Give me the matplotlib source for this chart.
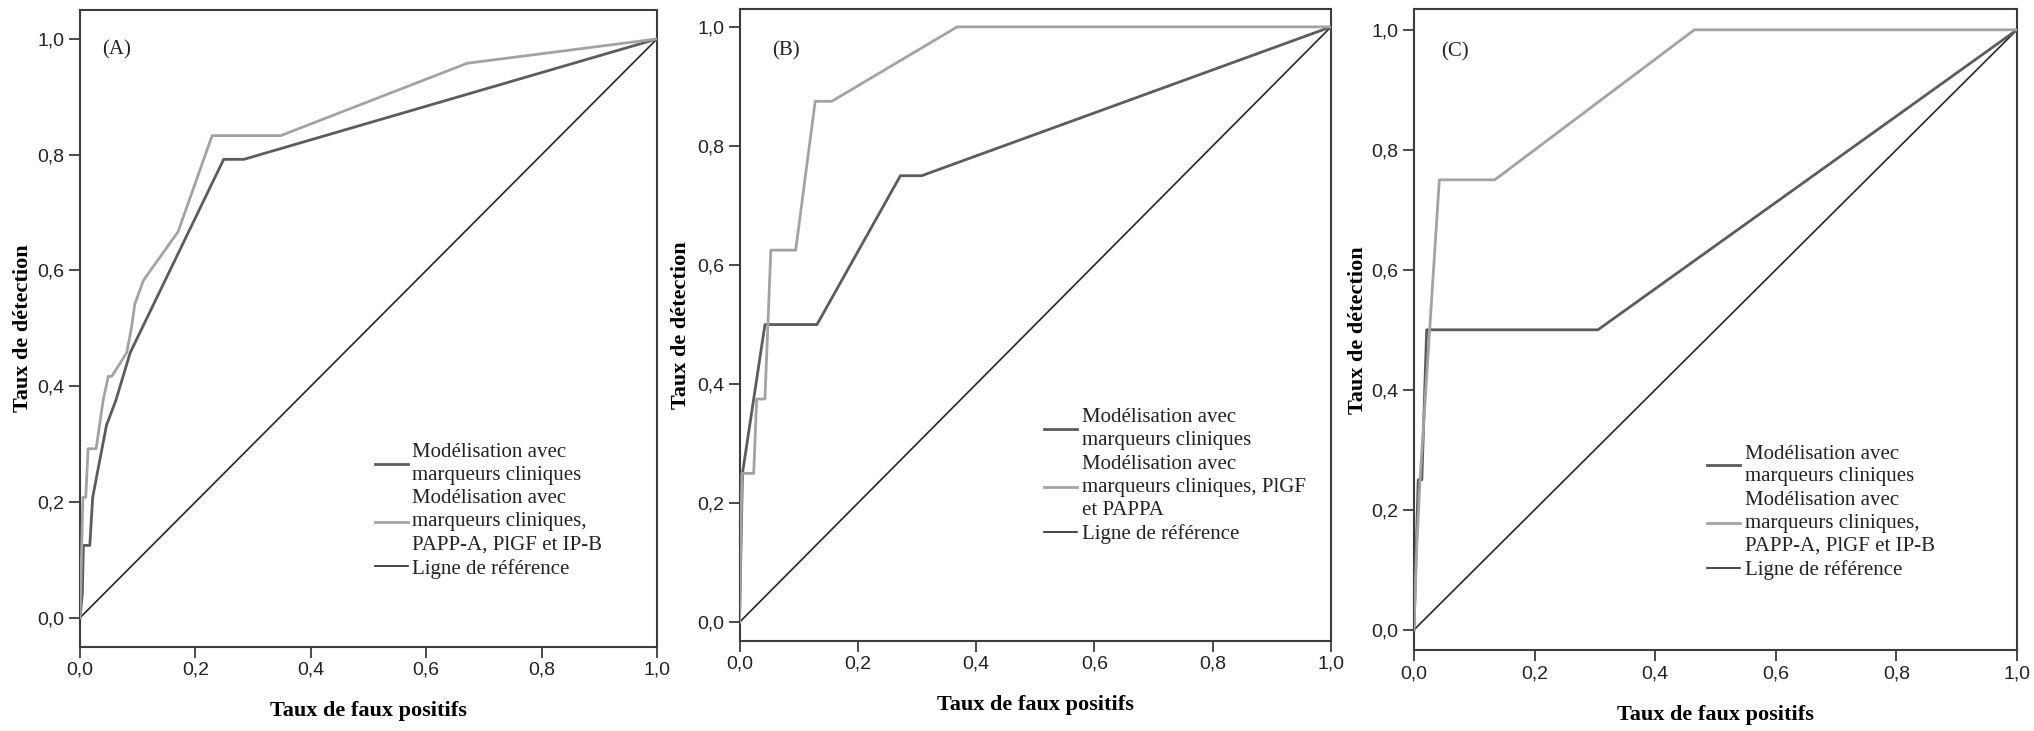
import matplotlib
matplotlib.use("Agg")
import matplotlib.pyplot as plt
from matplotlib.ticker import FuncFormatter

# ROC points
A_fpr_clin = [0, 0.004, 0.006, 0.017, 0.022, 0.030, 0.046, 0.062, 0.087, 0.249, 0.284, 1.0]
A_tpr_clin = [0, 0.042, 0.125, 0.125, 0.208, 0.250, 0.333, 0.375, 0.458, 0.792, 0.792, 1.0]
A_fpr_full = [0, 0.003, 0.005, 0.010, 0.014, 0.028, 0.040, 0.049, 0.055, 0.081, 0.089,
              0.095, 0.110, 0.170, 0.229, 0.348, 0.671, 1.0]
A_tpr_full = [0, 0.125, 0.208, 0.208, 0.292, 0.292, 0.375, 0.417, 0.417, 0.458, 0.500,
              0.542, 0.583, 0.667, 0.833, 0.833, 0.958, 1.0]

B_fpr_clin = [0, 0.005, 0.043, 0.131, 0.272, 0.308, 1.0]
B_tpr_clin = [0, 0.250, 0.500, 0.500, 0.750, 0.750, 1.0]
B_fpr_full = [0, 0.004, 0.024, 0.029, 0.043, 0.053, 0.095, 0.128, 0.156, 0.368, 1.0]
B_tpr_full = [0, 0.250, 0.250, 0.375, 0.375, 0.625, 0.625, 0.875, 0.875, 1.0, 1.0]

C_fpr_clin = [0, 0.007, 0.013, 0.021, 0.305, 1.0]
C_tpr_clin = [0, 0.250, 0.250, 0.500, 0.500, 1.0]
C_fpr_full = [0, 0.004, 0.010, 0.042, 0.134, 0.465, 1.0]
C_tpr_full = [0, 0.125, 0.250, 0.750, 0.750, 1.0, 1.0]

ref_x = [0, 1]
ref_y = [0, 1]

panel_tags = ["(A)", "(B)", "(C)"]
lab_clin = "Modélisation avec\nmarqueurs cliniques"
lab_full_A = "Modélisation avec\nmarqueurs cliniques,\nPAPP-A, PlGF et IP-B"
lab_full_B = "Modélisation avec\nmarqueurs cliniques, PlGF\net PAPPA"
lab_ref = "Ligne de référence"
xticks = [0, 0.2, 0.4, 0.6, 0.8, 1.0]

DARK = "#5c5c5c"
LIGHT = "#a3a3a3"
REF = "#262626"
SPINE = "#3c3c3c"
SERIF = "Liberation Serif"
SANS = "Liberation Sans"

panels = [
    dict(pos=[0.03933, 0.11532, 0.28368, 0.87100], ylim=(-0.05, 1.05),
         clin=(A_fpr_clin, A_tpr_clin), full=(A_fpr_full, A_tpr_full),
         lab_full=lab_full_A, leg=(0.511, 0.320), ylab_x=-0.082, tag=(0.038, 0.937)),
    dict(pos=[0.36357, 0.12353, 0.29081, 0.86416], ylim=(-0.031, 1.03),
         clin=(B_fpr_clin, B_tpr_clin), full=(B_fpr_full, B_tpr_full),
         lab_full=lab_full_B, leg=(0.515, 0.368), ylab_x=-0.082, tag=(0.055, 0.934)),
    dict(pos=[0.69518, 0.11053, 0.29646, 0.87661], ylim=(-0.034, 1.034),
         clin=(C_fpr_clin, C_tpr_clin), full=(C_fpr_full, C_tpr_full),
         lab_full=lab_full_A, leg=(0.486, 0.321), ylab_x=-0.076, tag=(0.045, 0.933)),
]

comma = FuncFormatter(lambda v, _: f"{v:.1f}".replace(".", ","))

fig = plt.figure(figsize=(20.34, 7.31), dpi=100, facecolor="white")

for p, tag in zip(panels, panel_tags):
    ax = fig.add_axes(p["pos"])
    l1, = ax.plot(*p["clin"], color=DARK, lw=2.0, label=lab_clin, zorder=3)
    l2, = ax.plot(*p["full"], color=LIGHT, lw=2.0, label=p["lab_full"], zorder=4)
    l3, = ax.plot(ref_x, ref_y, color=REF, lw=1.2, label=lab_ref, zorder=2)

    ax.set_xlim(0, 1)
    ax.set_ylim(*p["ylim"])
    ax.set_xticks(xticks)
    ax.set_yticks(xticks)
    ax.xaxis.set_major_formatter(comma)
    ax.yaxis.set_major_formatter(comma)
    ax.tick_params(direction="out", length=8, width=1.3, color=SPINE, pad=3,
                   labelsize=14, labelcolor="#222222")
    for t in ax.get_xticklabels() + ax.get_yticklabels():
        t.set_fontfamily(SANS)
    for sp in ax.spines.values():
        sp.set_color(SPINE)
        sp.set_linewidth(1.5)

    ax.set_xlabel("Taux de faux positifs", family=SERIF, fontweight="bold",
                  fontsize=16, labelpad=16)
    ax.set_ylabel("Taux de détection", family=SERIF, fontweight="bold", fontsize=16)
    ax.yaxis.set_label_coords(p["ylab_x"], 0.5)

    ax.text(p["tag"][0], p["tag"][1], tag, transform=ax.transAxes, family=SERIF,
            fontsize=15, ha="left", va="center", color="#222222")

    leg = ax.legend(handles=[l1, l2, l3], loc="upper left", bbox_to_anchor=p["leg"],
                    frameon=False, borderpad=0, borderaxespad=0, handlelength=1.6,
                    handletextpad=0.2, labelspacing=0.22,
                    prop={"family": SERIF, "size": 15})
    for txt in leg.get_texts():
        txt.set_linespacing(1.28)
        txt.set_color("#222222")

fig.savefig("out.png", dpi=100, facecolor="white")
